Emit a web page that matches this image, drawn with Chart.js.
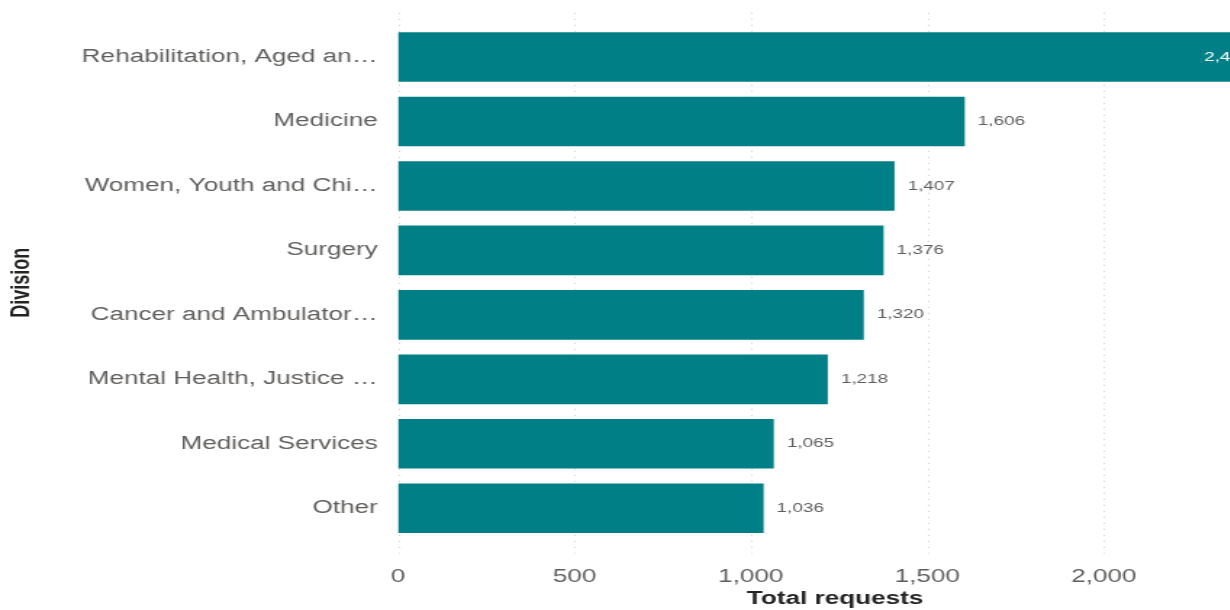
<!DOCTYPE html>
<html><head><meta charset="utf-8">
<script src="https://cdn.jsdelivr.net/npm/chart.js@4.4.1/dist/chart.umd.min.js"></script>
<style>
html,body{margin:0;padding:0;background:#fff;overflow:hidden;width:1230px;height:610px}
#wrap{position:absolute;left:0;top:0;width:880px;height:610px;transform:scaleX(1.45);transform-origin:0 0}
</style></head><body>
<div id="wrap"><canvas id="c" width="880" height="610"></canvas></div>
<script>
// Requests per division, largest first
const divisions = [
  'Rehabilitation, Aged an\u2026',
  'Medicine',
  'Women, Youth and Chi\u2026',
  'Surgery',
  'Cancer and Ambulator\u2026',
  'Mental Health, Justice \u2026',
  'Medical Services',
  'Other'
];
const totalRequests = [2443, 1606, 1407, 1376, 1320, 1218, 1065, 1036];
const axisTicks = [0, 500, 1000, 1500, 2000];
const axisMax = 2477;

const FONT = '"Liberation Sans", Arial, sans-serif';
const TEAL = '#017F86';
const GREY = '#605E5C';
const DARK = '#252423';

// dotted vertical gridlines, drawn a little past the plot area
const dottedGrid = {
  id: 'dottedGrid',
  beforeDatasetsDraw(chart) {
    const {ctx, chartArea, scales: {x}} = chart;
    ctx.save();
    ctx.strokeStyle = '#C8C8C8';
    ctx.lineWidth = 1;
    ctx.setLineDash([1, 5]);
    x.ticks.forEach(t => {
      const px = Math.round(x.getPixelForValue(t.value)) + 0.5;
      ctx.beginPath();
      ctx.moveTo(px, chartArea.top - 12);
      ctx.lineTo(px, chartArea.bottom + 13);
      ctx.stroke();
    });
    ctx.restore();
  }
};

// value labels at the end of each bar
const valueLabels = {
  id: 'valueLabels',
  afterDatasetsDraw(chart) {
    const {ctx, chartArea} = chart;
    const meta = chart.getDatasetMeta(0);
    ctx.save();
    ctx.font = '13px ' + FONT;
    ctx.textBaseline = 'middle';
    meta.data.forEach((bar, i) => {
      const text = totalRequests[i].toLocaleString('en-US');
      const w = ctx.measureText(text).width;
      if (bar.x + 10 + w > chartArea.right) {
        ctx.fillStyle = '#FFFFFF';
        ctx.textAlign = 'right';
        ctx.fillText(text, bar.x - 6, bar.y);
      } else {
        ctx.fillStyle = GREY;
        ctx.textAlign = 'left';
        ctx.fillText(text, bar.x + 9, bar.y);
      }
    });
    ctx.restore();
  }
};

new Chart(document.getElementById('c'), {
  type: 'bar',
  data: {
    labels: divisions,
    datasets: [{
      data: totalRequests,
      backgroundColor: TEAL,
      borderWidth: 0,
      categoryPercentage: 1,
      barPercentage: 0.77
    }]
  },
  options: {
    indexAxis: 'y',
    responsive: false,
    animation: false,
    devicePixelRatio: 1,
    layout: {padding: {top: 22, right: 2.7, left: 0, bottom: 0}},
    plugins: {legend: {display: false}, tooltip: {enabled: false}},
    scales: {
      x: {
        min: 0,
        max: axisMax,
        afterBuildTicks: s => { s.ticks = axisTicks.map(v => ({value: v})); },
        afterFit: s => { s.height = 69.5; },
        grid: {display: false, drawTicks: false},
        border: {display: false},
        ticks: {
          padding: 26,
          color: GREY,
          font: {family: FONT, size: 18},
          maxRotation: 0,
          callback: v => Number(v).toLocaleString('en-US')
        },
        title: {
          display: true,
          text: 'Total requests',
          color: DARK,
          font: {family: FONT, size: 18, weight: 'bold'},
          padding: {top: 0, bottom: 0}
        }
      },
      y: {
        afterFit: s => { s.width = 274.5; },
        grid: {display: false, drawTicks: false},
        border: {display: false},
        ticks: {
          padding: 14,
          color: GREY,
          font: {family: FONT, size: 18},
          autoSkip: false
        },
        title: {
          display: true,
          text: 'Division',
          color: DARK,
          font: {family: FONT, size: 18, weight: 'bold'},
          padding: {top: 4.4, bottom: 0}
        }
      }
    }
  },
  plugins: [dottedGrid, valueLabels]
});
</script>
</body></html>
